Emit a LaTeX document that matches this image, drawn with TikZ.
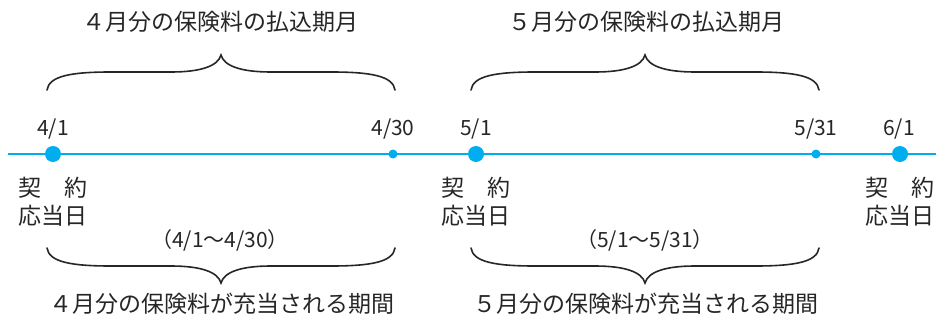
\documentclass[tikz,border=0pt]{standalone}
\usepackage{fontspec}
\setmainfont{Noto Sans CJK JP}
\usepackage{tikz}
\definecolor{senblue}{RGB}{0,174,239}
\newcommand{\datenode}{\node[font=\fontsize{21}{21}\selectfont,text=black!85]}
\newcommand{\jpnode}{\node[font=\fontsize{23}{28}\selectfont,text=black!85,align=center]}
\newcommand{\bigdot}{\node[circle,fill=senblue,inner sep=0pt,minimum size=16pt]}
\newcommand{\smalldot}{\node[circle,fill=senblue,inner sep=0pt,minimum size=9pt]}
\tikzset{kakko/.pic={\draw[line width=1.6pt,line cap=round,black!85] (-174,0) .. controls (-172,-14) and (-150,-18) .. (-110,-18) -- (-50,-18) .. controls (-20,-18) and (-3,-24) .. (0,-35) .. controls (3,-24) and (20,-18) .. (50,-18) -- (110,-18) .. controls (150,-18) and (172,-14) .. (174,0);}}

\begin{document}
\begin{tikzpicture}[x=1pt,y=-1pt]
      \useasboundingbox (0,0) rectangle (936,321);
      \coordinate (lstart) at (8,154); %
      \coordinate (lend) at (936,154); %
      \draw[senblue,line width=2pt] (lstart) -- (lend);
      \bigdot (d41) at (53,154) {}; %
      \smalldot (d430) at (393,154) {};
      \bigdot (d51) at (476,154) {}; %
      \smalldot (d531) at (816,154) {};
      \bigdot (d61) at (900,154) {}; %
      \datenode (t41) at (53,129) {4/1};
      \datenode (t430) at (393,129) {4/30};
      \datenode (t51) at (476,129) {5/1};
      \datenode (t531) at (816,129) {5/31};
      \datenode (t61) at (899,129) {6/1};
      \jpnode (k41) at (53,202) {契　約\\応当日}; %
      \jpnode (k51) at (476,202) {契　約\\応当日};
      \jpnode (k61) at (900,202) {契　約\\応当日};
      \pic at (221,90) {kakko}; %
      \pic at (645,90) {kakko};
      \jpnode (pay4) at (220,22) {４月分の保険料の払込期月};
      \jpnode (pay5) at (646,22) {５月分の保険料の払込期月};
      \pic[yscale=-1] at (221,248) {kakko}; %
      \pic[yscale=-1] at (645,248) {kakko};
      \jpnode[font=\fontsize{21}{21}\selectfont] (r4) at (220,240) {（4/1〜4/30）};
      \jpnode[font=\fontsize{21}{21}\selectfont] (r5) at (645,240) {（5/1〜5/31）};
      \jpnode (ju4) at (222,304) {４月分の保険料が充当される期間};
      \jpnode (ju5) at (646,304) {５月分の保険料が充当される期間};
    \end{tikzpicture}
\end{document}
